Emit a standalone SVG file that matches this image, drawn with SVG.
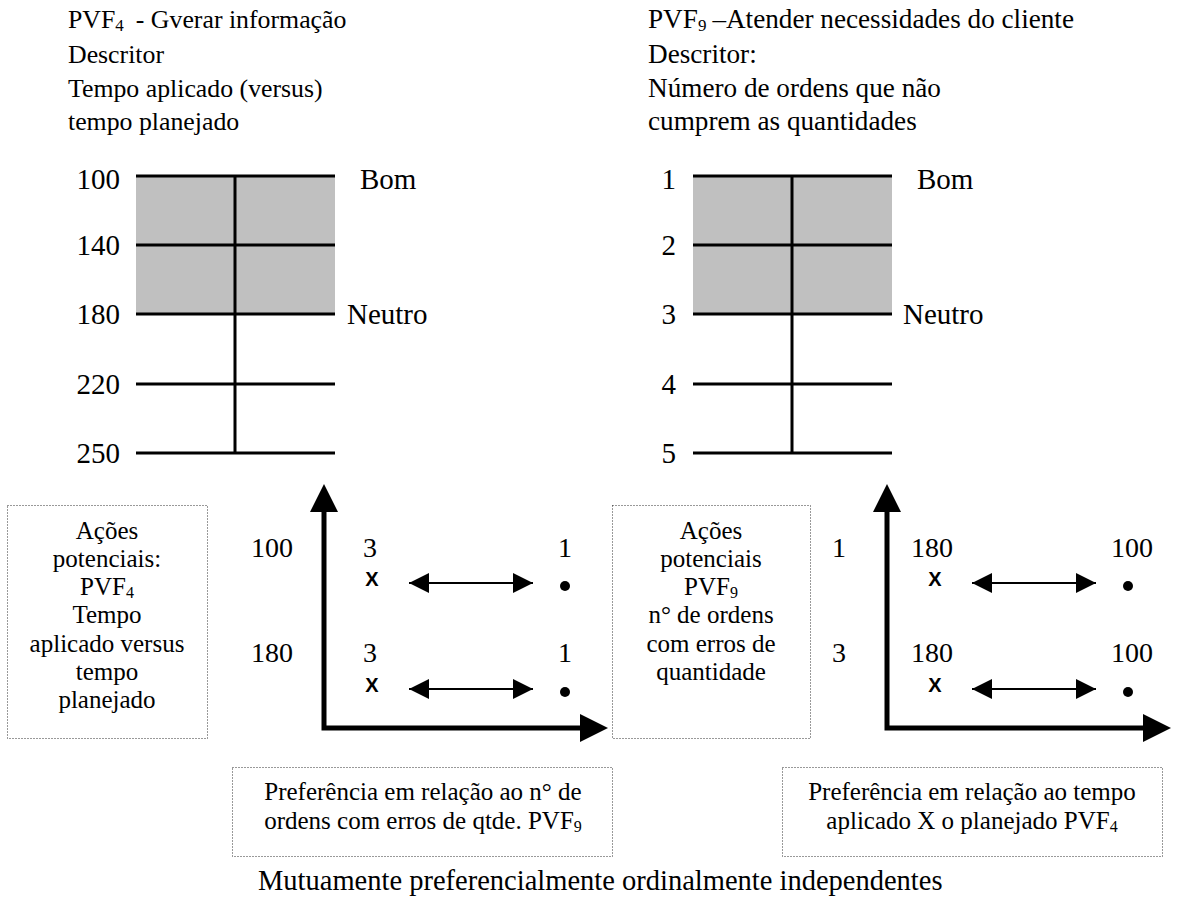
<svg xmlns="http://www.w3.org/2000/svg" width="1178" height="901" viewBox="0 0 1178 901">
  <style>
    text { font-family: "Liberation Serif", "Times New Roman", serif; fill: #000; }
    .hdl { font-size: 25.8px; }
    .hdr { font-size: 27.2px; }
    .lb { font-size: 29px; }
    .cap { font-size: 28.5px; }
    .num { font-size: 28px; text-anchor: middle; }
    .bx { font-size: 25px; text-anchor: middle; }
    .mk { font-family: "Liberation Sans", Arial, sans-serif; font-size: 20px; font-weight: bold; text-anchor: middle; }
    .end { text-anchor: end; }
    .tick { stroke: #000; stroke-width: 3; fill: none; }
    .band { fill: #c0c0c0; }
    .note { fill: none; stroke: #333; stroke-width: 1; stroke-dasharray: 1 2; }
    .axis { fill: none; stroke: #000; stroke-width: 5; stroke-linejoin: miter; }
    .pair { fill: none; stroke: #000; stroke-width: 2; }
  </style>
  <defs>
    <marker id="bigHead" markerUnits="userSpaceOnUse" markerWidth="30" markerHeight="30" refX="2" refY="14" orient="auto-start-reverse">
      <path d="M0,0 L28,14 L0,28 Z" fill="#000"/>
    </marker>
    <marker id="smallHead" markerUnits="userSpaceOnUse" markerWidth="22" markerHeight="22" refX="20" refY="10" orient="auto-start-reverse">
      <path d="M0,0 L20,10 L0,20 Z" fill="#000"/>
    </marker>
  </defs>

  <!-- descriptor headings -->
  <g id="head-pvf4">
    <text class="hdl" x="68" y="28">PVF<tspan font-size="17" dy="3">4</tspan><tspan dy="-3" dx="12">- Gverar informação</tspan></text>
    <text class="hdl" x="68" y="63">Descritor</text>
    <text class="hdl" x="68" y="97">Tempo aplicado (versus)</text>
    <text class="hdl" x="68" y="130">tempo planejado</text>
  </g>
  <g id="head-pvf9">
    <text class="hdr" x="648" y="28">PVF<tspan font-size="17" dy="3">9</tspan><tspan dy="-3" dx="6">–Atender necessidades do cliente</tspan></text>
    <text class="hdr" x="648" y="63">Descritor:</text>
    <text class="hdr" x="648" y="97">Número de ordens que não</text>
    <text class="hdr" x="648" y="130">cumprem as quantidades</text>
  </g>

  <!-- PVF4 scale -->
  <g id="scale-pvf4">
    <rect class="band" x="136" y="176" width="199" height="138"/>
    <path class="tick" d="M136,176 H335 M136,245 H335 M136,314 H335 M136,384 H335 M136,453 H335 M235,176 V453"/>
    <text class="lb end" x="120" y="189">100</text>
    <text class="lb end" x="120" y="255">140</text>
    <text class="lb end" x="120" y="324">180</text>
    <text class="lb end" x="120" y="394">220</text>
    <text class="lb end" x="120" y="463">250</text>
    <text class="lb" x="360" y="189">Bom</text>
    <text class="lb" x="347" y="324">Neutro</text>
  </g>

  <!-- PVF9 scale -->
  <g id="scale-pvf9">
    <rect class="band" x="693" y="176" width="199" height="138"/>
    <path class="tick" d="M693,176 H892 M693,245 H892 M693,314 H892 M693,384 H892 M693,453 H892 M792,176 V453"/>
    <text class="lb end" x="676" y="189">1</text>
    <text class="lb end" x="676" y="255">2</text>
    <text class="lb end" x="676" y="324">3</text>
    <text class="lb end" x="676" y="394">4</text>
    <text class="lb end" x="676" y="463">5</text>
    <text class="lb" x="917" y="189">Bom</text>
    <text class="lb" x="903" y="324">Neutro</text>
  </g>

  <!-- potential-action notes -->
  <g id="note-acoes-pvf4">
    <rect class="note" x="7.5" y="505.5" width="200" height="233"/>
    <text class="bx" x="107" y="539">Ações</text>
    <text class="bx" x="107" y="567">potenciais:</text>
    <text class="bx" x="107" y="595">PVF<tspan font-size="16" dy="3">4</tspan></text>
    <text class="bx" x="107" y="623">Tempo</text>
    <text class="bx" x="107" y="652">aplicado versus</text>
    <text class="bx" x="107" y="680">tempo</text>
    <text class="bx" x="107" y="708">planejado</text>
  </g>
  <g id="note-acoes-pvf9">
    <rect class="note" x="612.5" y="505.5" width="198" height="233"/>
    <text class="bx" x="711" y="539">Ações</text>
    <text class="bx" x="711" y="567">potenciais</text>
    <text class="bx" x="711" y="595">PVF<tspan font-size="16" dy="3">9</tspan></text>
    <text class="bx" x="711" y="623">n° de ordens</text>
    <text class="bx" x="711" y="652">com erros de</text>
    <text class="bx" x="711" y="680">quantidade</text>
  </g>

  <!-- left comparison chart -->
  <g id="chart-left">
    <text class="num" x="272" y="557">100</text>
    <text class="num" x="272" y="662">180</text>
    <text class="num" x="370" y="557">3</text>
    <text class="num" x="565" y="557">1</text>
    <text class="mk" x="372" y="586">X</text>
    <circle cx="565" cy="586" r="5"/>
    <text class="num" x="370" y="662">3</text>
    <text class="num" x="565" y="662">1</text>
    <text class="mk" x="372" y="692">X</text>
    <circle cx="565" cy="692" r="5"/>
  </g>

  <!-- right comparison chart -->
  <g id="chart-right">
    <text class="num" x="839" y="557">1</text>
    <text class="num" x="839" y="662">3</text>
    <text class="num" x="932" y="557">180</text>
    <text class="num" x="1132" y="557">100</text>
    <text class="mk" x="935" y="586">X</text>
    <circle cx="1128" cy="586" r="5"/>
    <text class="num" x="932" y="662">180</text>
    <text class="num" x="1132" y="662">100</text>
    <text class="mk" x="935" y="692">X</text>
    <circle cx="1128" cy="692" r="5"/>
  </g>

  <!-- preference notes -->
  <g id="note-pref-pvf9">
    <rect class="note" x="232.5" y="767.5" width="380" height="89"/>
    <text class="bx" x="423" y="800">Preferência em relação ao n° de</text>
    <text class="bx" x="423" y="829">ordens com erros de qtde. PVF<tspan font-size="16" dy="3">9</tspan></text>
  </g>
  <g id="note-pref-pvf4">
    <rect class="note" x="782.5" y="767.5" width="380" height="89"/>
    <text class="bx" x="972" y="800">Preferência em relação ao tempo</text>
    <text class="bx" x="972" y="829">aplicado X o planejado PVF<tspan font-size="16" dy="3">4</tspan></text>
  </g>

  <g id="caption">
    <text class="cap" x="258" y="890">Mutuamente preferencialmente ordinalmente independentes</text>
  </g>

  <!-- axes and indifference arrows -->
  <g id="connectors">
    <path class="axis" d="M324,510 V728 H582" marker-start="url(#bigHead)" marker-end="url(#bigHead)"/>
    <path class="axis" d="M887,510 V728 H1145" marker-start="url(#bigHead)" marker-end="url(#bigHead)"/>
    <line class="pair" x1="409" y1="583" x2="533" y2="583" marker-start="url(#smallHead)" marker-end="url(#smallHead)"/>
    <line class="pair" x1="409" y1="689" x2="533" y2="689" marker-start="url(#smallHead)" marker-end="url(#smallHead)"/>
    <line class="pair" x1="972" y1="583" x2="1096" y2="583" marker-start="url(#smallHead)" marker-end="url(#smallHead)"/>
    <line class="pair" x1="972" y1="689" x2="1096" y2="689" marker-start="url(#smallHead)" marker-end="url(#smallHead)"/>
  </g>
</svg>
